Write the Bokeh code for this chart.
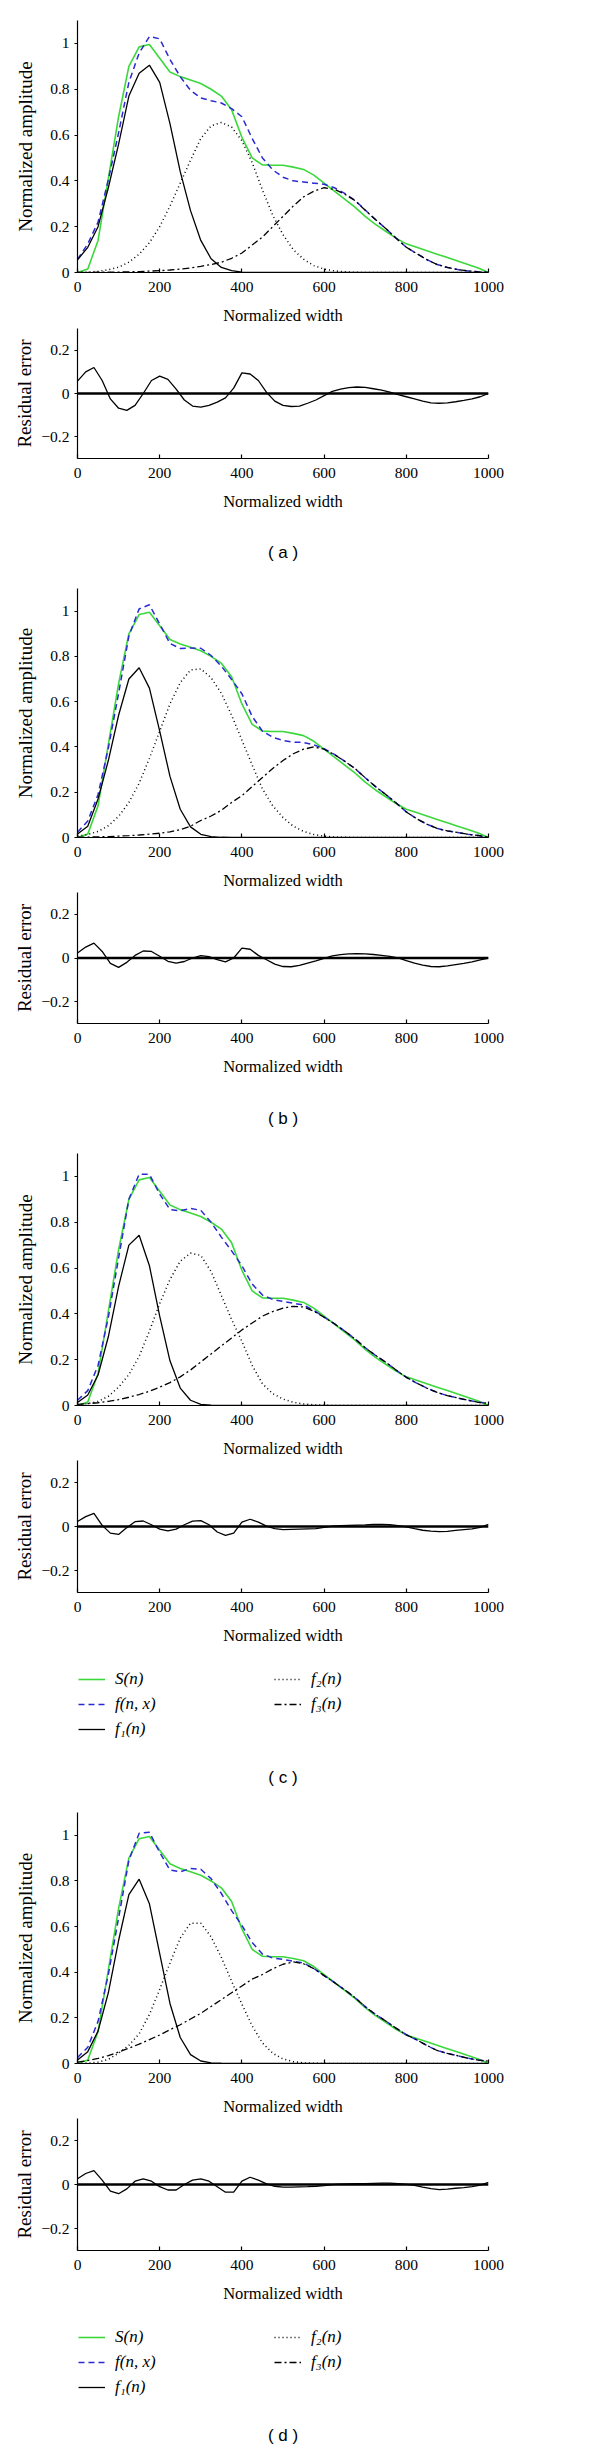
from bokeh.plotting import figure
from bokeh.layouts import column
from bokeh.models import (FixedTicker, Span, Legend, LegendItem, Range1d,
                          CustomJSTickFormatter, Label)
from bokeh.embed import file_html
from bokeh.resources import INLINE

# ---------------- data ----------------
X = [0, 25, 50, 75, 100, 125, 150, 175, 200, 225, 250, 275, 300, 325, 350,
     375, 400, 425, 450, 475, 500, 525, 550, 575, 600, 625, 650, 675, 700,
     725, 750, 775, 800, 825, 850, 875, 900, 925, 950, 975, 1000]
XR = [0, 20, 40, 60, 80, 100, 120, 140, 160, 180, 200, 220, 240, 260, 280,
      300, 320, 340, 360, 380, 400, 420, 440, 460, 480, 500, 520, 540, 560,
      580, 600, 620, 640, 660, 680, 700, 720, 740, 760, 780, 800, 820, 840,
      860, 880, 900, 920, 940, 960, 980, 1000]

X_TICKS = [0, 200, 400, 600, 800, 1000]
AMP_TICKS = [0, 0.2, 0.4, 0.6, 0.8, 1.0]
RES_TICKS = [-0.2, 0, 0.2]

S_N = [0.0, 0.015, 0.14, 0.41, 0.68, 0.90, 0.985, 0.995, 0.935, 0.875, 0.855,
       0.84, 0.825, 0.80, 0.77, 0.71, 0.59, 0.50, 0.47, 0.468, 0.468, 0.46,
       0.45, 0.425, 0.39, 0.355, 0.32, 0.285, 0.245, 0.21, 0.18, 0.15, 0.125,
       0.11, 0.095, 0.08, 0.065, 0.05, 0.035, 0.02, 0.0]

# panel (a)
FIT_A = [0.057, 0.125, 0.22, 0.405, 0.61, 0.83, 0.958, 1.03, 1.02, 0.93, 0.855,
         0.795, 0.762, 0.75, 0.74, 0.715, 0.68, 0.585, 0.50, 0.448, 0.416, 0.40,
         0.395, 0.39, 0.385, 0.37, 0.345, 0.315, 0.273, 0.231, 0.192, 0.15,
         0.11, 0.083, 0.056, 0.035, 0.022, 0.013, 0.007, 0.003, 0.0]
F1_A = [0.055, 0.11, 0.2, 0.37, 0.56, 0.77, 0.87, 0.905, 0.83, 0.65, 0.44,
        0.27, 0.14, 0.06, 0.022, 0.008, 0.002, 0.0, 0.0, 0.0, 0.0, 0.0, 0.0,
        0.0, 0.0, 0.0, 0.0, 0.0, 0.0, 0.0, 0.0, 0.0, 0.0, 0.0, 0.0, 0.0, 0.0,
        0.0, 0.0, 0.0, 0.0]
F2_A = [0.001, 0.002, 0.005, 0.012, 0.023, 0.045, 0.08, 0.13, 0.2, 0.29, 0.39,
        0.49, 0.585, 0.64, 0.655, 0.635, 0.575, 0.48, 0.36, 0.25, 0.165, 0.10,
        0.058, 0.03, 0.015, 0.007, 0.003, 0.001, 0.0, 0.0, 0.0, 0.0, 0.0, 0.0,
        0.0, 0.0, 0.0, 0.0, 0.0, 0.0, 0.0]
F3_A = [0.0, 0.0, 0.001, 0.001, 0.002, 0.003, 0.004, 0.006, 0.008, 0.011, 0.015,
        0.02, 0.027, 0.035, 0.045, 0.062, 0.085, 0.12, 0.155, 0.2, 0.245, 0.29,
        0.33, 0.355, 0.37, 0.363, 0.342, 0.314, 0.272, 0.231, 0.192, 0.15,
        0.11, 0.083, 0.056, 0.035, 0.022, 0.013, 0.007, 0.003, 0.0]
RES_A = [0.057, 0.10, 0.12, 0.06, -0.025, -0.068, -0.078, -0.055, 0.0, 0.06,
         0.08, 0.065, 0.02, -0.03, -0.058, -0.063, -0.055, -0.04, -0.02, 0.025,
         0.095, 0.09, 0.06, 0.005, -0.035, -0.055, -0.06, -0.058, -0.045, -0.03,
         -0.01, 0.01, 0.02, 0.027, 0.03, 0.028, 0.022, 0.016, 0.006, -0.005,
         -0.015, -0.025, -0.035, -0.043, -0.045, -0.043, -0.038, -0.032,
         -0.025, -0.015, 0.0]

# panel (b)
FIT_B = [0.023, 0.073, 0.19, 0.395, 0.637, 0.89, 1.01, 1.028, 0.943, 0.857,
         0.835, 0.837, 0.836, 0.804, 0.757, 0.698, 0.635, 0.535, 0.47, 0.443,
         0.429, 0.421, 0.42, 0.409, 0.392, 0.367, 0.337, 0.305, 0.264, 0.225,
         0.19, 0.153, 0.113, 0.083, 0.059, 0.04, 0.029, 0.022, 0.014, 0.009, 0.0]
F1_B = [0.015, 0.05, 0.17, 0.34, 0.54, 0.70, 0.75, 0.66, 0.47, 0.27, 0.125,
        0.047, 0.014, 0.004, 0.001, 0.0, 0.0, 0.0, 0.0, 0.0, 0.0, 0.0, 0.0,
        0.0, 0.0, 0.0, 0.0, 0.0, 0.0, 0.0, 0.0, 0.0, 0.0, 0.0, 0.0, 0.0, 0.0,
        0.0, 0.0, 0.0, 0.0]
F2_B = [0.006, 0.013, 0.027, 0.052, 0.093, 0.155, 0.24, 0.35, 0.47, 0.59, 0.684,
        0.74, 0.745, 0.706, 0.637, 0.54, 0.43, 0.32, 0.215, 0.14, 0.088, 0.05,
        0.027, 0.013, 0.006, 0.002, 0.001, 0.0, 0.0, 0.0, 0.0, 0.0, 0.0, 0.0,
        0.0, 0.0, 0.0, 0.0, 0.0, 0.0, 0.0]
F3_B = [0.001, 0.002, 0.003, 0.004, 0.006, 0.008, 0.011, 0.015, 0.019, 0.025,
        0.035, 0.05, 0.075, 0.095, 0.12, 0.155, 0.185, 0.225, 0.265, 0.305,
        0.34, 0.37, 0.39, 0.40, 0.39, 0.366, 0.337, 0.305, 0.264, 0.225, 0.19,
        0.153, 0.113, 0.083, 0.059, 0.04, 0.029, 0.022, 0.014, 0.009, 0.0]
RES_B = [0.023, 0.05, 0.068, 0.03, -0.025, -0.043, -0.02, 0.012, 0.032, 0.03,
         0.008, -0.015, -0.023, -0.016, 0.0, 0.011, 0.006, -0.008, -0.018, 0.0,
         0.045, 0.04, 0.012, -0.008, -0.028, -0.039, -0.04, -0.034, -0.023,
         -0.013, -0.002, 0.01, 0.015, 0.019, 0.02, 0.019, 0.016, 0.012, 0.007,
         0.001, -0.012, -0.024, -0.033, -0.039, -0.04, -0.036, -0.03, -0.025,
         -0.018, -0.009, 0.0]

# panel (c)
FIT_C = [0.023, 0.065, 0.175, 0.385, 0.644, 0.90, 1.01, 1.009, 0.923, 0.855,
         0.85, 0.86, 0.852, 0.80, 0.735, 0.675, 0.61, 0.53, 0.482, 0.463, 0.454,
         0.447, 0.438, 0.415, 0.386, 0.357, 0.325, 0.291, 0.252, 0.219, 0.189,
         0.155, 0.123, 0.098, 0.076, 0.057, 0.043, 0.033, 0.023, 0.014, 0.01]
F1_C = [0.013, 0.046, 0.133, 0.30, 0.52, 0.70, 0.743, 0.61, 0.39, 0.195, 0.076,
        0.023, 0.005, 0.001, 0.0, 0.0, 0.0, 0.0, 0.0, 0.0, 0.0, 0.0, 0.0, 0.0,
        0.0, 0.0, 0.0, 0.0, 0.0, 0.0, 0.0, 0.0, 0.0, 0.0, 0.0, 0.0, 0.0, 0.0,
        0.0, 0.0, 0.0]
F2_C = [0.003, 0.008, 0.018, 0.04, 0.08, 0.135, 0.215, 0.325, 0.445, 0.55, 0.63,
        0.665, 0.655, 0.585, 0.48, 0.375, 0.28, 0.175, 0.095, 0.052, 0.028,
        0.014, 0.007, 0.003, 0.001, 0.0, 0.0, 0.0, 0.0, 0.0, 0.0, 0.0, 0.0,
        0.0, 0.0, 0.0, 0.0, 0.0, 0.0, 0.0, 0.0]
F3_C = [0.005, 0.008, 0.012, 0.018, 0.026, 0.036, 0.048, 0.062, 0.08, 0.1, 0.125,
        0.155, 0.19, 0.225, 0.26, 0.295, 0.33, 0.36, 0.39, 0.41, 0.425, 0.433,
        0.43, 0.412, 0.385, 0.357, 0.325, 0.291, 0.252, 0.219, 0.189, 0.155,
        0.123, 0.098, 0.076, 0.057, 0.043, 0.033, 0.023, 0.014, 0.01]
RES_C = [0.023, 0.045, 0.06, 0.005, -0.03, -0.036, -0.005, 0.022, 0.025, 0.008,
         -0.012, -0.02, -0.012, 0.008, 0.024, 0.027, 0.008, -0.025, -0.04,
         -0.03, 0.02, 0.033, 0.02, 0.002, -0.01, -0.014, -0.013, -0.012, -0.011,
         -0.01, -0.004, 0.002, 0.004, 0.005, 0.006, 0.007, 0.009, 0.01, 0.008,
         0.004, -0.002, -0.01, -0.017, -0.021, -0.023, -0.022, -0.018, -0.014,
         -0.011, -0.004, 0.01]

# panel (d)
FIT_D = [0.026, 0.071, 0.185, 0.39, 0.638, 0.89, 1.009, 1.013, 0.925, 0.848,
         0.84, 0.855, 0.851, 0.81, 0.745, 0.67, 0.605, 0.53, 0.48, 0.462, 0.456,
         0.448, 0.44, 0.417, 0.385, 0.355, 0.323, 0.289, 0.249, 0.215, 0.186,
         0.155, 0.126, 0.104, 0.079, 0.057, 0.044, 0.034, 0.023, 0.015, 0.01]
F1_D = [0.015, 0.052, 0.142, 0.31, 0.539, 0.74, 0.808, 0.70, 0.482, 0.263,
        0.114, 0.039, 0.011, 0.003, 0.001, 0.0, 0.0, 0.0, 0.0, 0.0, 0.0, 0.0,
        0.0, 0.0, 0.0, 0.0, 0.0, 0.0, 0.0, 0.0, 0.0, 0.0, 0.0, 0.0, 0.0, 0.0,
        0.0, 0.0, 0.0, 0.0, 0.0]
F2_D = [0.001, 0.002, 0.006, 0.018, 0.045, 0.08, 0.13, 0.215, 0.325, 0.44, 0.55,
        0.615, 0.615, 0.555, 0.465, 0.36, 0.26, 0.165, 0.09, 0.045, 0.02, 0.008,
        0.003, 0.001, 0.0, 0.0, 0.0, 0.0, 0.0, 0.0, 0.0, 0.0, 0.0, 0.0, 0.0,
        0.0, 0.0, 0.0, 0.0, 0.0, 0.0]
F3_D = [0.006, 0.013, 0.022, 0.035, 0.05, 0.067, 0.085, 0.105, 0.125, 0.148,
        0.17, 0.195, 0.22, 0.25, 0.28, 0.31, 0.34, 0.37, 0.39, 0.415, 0.435,
        0.445, 0.437, 0.416, 0.385, 0.355, 0.323, 0.289, 0.249, 0.215, 0.186,
        0.155, 0.126, 0.104, 0.079, 0.057, 0.044, 0.034, 0.023, 0.015, 0.01]
RES_D = [0.026, 0.05, 0.063, 0.02, -0.03, -0.042, -0.02, 0.015, 0.026, 0.015,
         -0.01, -0.025, -0.025, 0.0, 0.02, 0.026, 0.015, -0.01, -0.035, -0.035,
         0.015, 0.033, 0.02, 0.003, -0.008, -0.012, -0.012, -0.011, -0.01,
         -0.008, -0.005, -0.001, 0.002, 0.003, 0.004, 0.004, 0.005, 0.006,
         0.006, 0.004, 0.001, -0.004, -0.012, -0.019, -0.023, -0.021, -0.017,
         -0.014, -0.01, -0.003, 0.01]

PANEL_NAMES = ["( a )", "( b )", "( c )", "( d )"]
LEGEND_LABELS = ["S(n)", "f(n, x)", "f\u2081(n)", "f\u2082(n)", "f\u2083(n)"]

# ---------------- styling ----------------
SERIF = "Liberation Serif"
SANS = "Liberation Sans"
GREEN = "#3bd83b"
BLUE = "#2a2ad2"
LEFT, RIGHT = 77, 40
FRAME_W = 411
FIG_W = LEFT + FRAME_W + RIGHT

FMT = CustomJSTickFormatter(code="""
    let s = tick.toFixed(1);
    if (s.endsWith('.0')) { s = s.slice(0, -2); }
    if (s === '-0') { s = '0'; }
    return s.replace('-', '\u2212');
""")


def base_fig(height, top, bottom, y0, y1, **kw):
    p = figure(width=FIG_W, height=height,
               x_range=Range1d(0, 1000), y_range=Range1d(y0, y1),
               output_backend="svg", toolbar_location=None,
               min_border_left=LEFT, min_border_right=RIGHT,
               min_border_top=top, min_border_bottom=bottom, **kw)
    p.outline_line_color = None
    p.background_fill_color = "white"
    p.border_fill_color = "white"
    return p


def style_axes(p, ylabel, yticks, ylabel_standoff):
    p.grid.visible = False
    xa = p.xaxis[0]
    xa.ticker = FixedTicker(ticks=X_TICKS)
    xa.axis_label = "Normalized width"
    xa.axis_label_text_font = SERIF
    xa.axis_label_text_font_size = "16.5px"
    xa.axis_label_text_font_style = "normal"
    xa.axis_label_text_color = "black"
    xa.axis_label_standoff = 11
    xa.major_label_text_font = SERIF
    xa.major_label_text_font_size = "15.5px"
    xa.major_label_text_color = "black"
    xa.major_label_standoff = 9
    xa.major_tick_in = 4
    xa.major_tick_out = 0
    xa.minor_tick_line_color = None
    xa.axis_line_width = 1.2
    xa.major_tick_line_width = 1.2
    ya = p.yaxis[0]
    ya.ticker = FixedTicker(ticks=yticks)
    ya.formatter = FMT
    ya.axis_label = ylabel
    ya.axis_label_text_font = SERIF
    ya.axis_label_text_font_size = "19px"
    ya.axis_label_text_font_style = "normal"
    ya.axis_label_text_color = "black"
    ya.axis_label_standoff = ylabel_standoff
    ya.major_label_text_font = SERIF
    ya.major_label_text_font_size = "15.5px"
    ya.major_label_text_color = "black"
    ya.major_label_standoff = 5
    ya.major_tick_in = 0
    ya.major_tick_out = 3
    ya.minor_tick_line_color = None
    ya.axis_line_width = 1.2
    ya.major_tick_line_width = 1.2


def draw_curves(p, fit, f1, f2, f3):
    r_s = p.line(X, S_N, line_color=GREEN, line_width=1.6)
    r_fit = p.line(X, fit, line_color=BLUE, line_width=1.5, line_dash="6 4")
    r_f1 = p.line(X, f1, line_color="black", line_width=1.3)
    r_f2 = p.line(X, f2, line_color="black", line_width=1.5, line_dash="1 3")
    r_f3 = p.line(X, f3, line_color="black", line_width=1.3,
                  line_dash="7 3 2 3")
    return [r_s, r_fit, r_f1, r_f2, r_f3]


def main_fig(top, frame_h, bottom, fit, f1, f2, f3):
    p = base_fig(top + frame_h + bottom, top, bottom, 0, 1.1)
    style_axes(p, "Normalized amplitude", AMP_TICKS, 11)
    draw_curves(p, fit, f1, f2, f3)
    return p


def res_fig(frame_h, bottom, res):
    p = base_fig(frame_h + bottom, 0, bottom, -0.3, 0.3)
    style_axes(p, "Residual error", RES_TICKS, 3)
    p.add_layout(Span(location=0, dimension="width", line_color="black",
                      line_width=2.6))
    p.line(XR, res, line_color="black", line_width=1.3)
    return p


def label_fig(height, offset, text):
    p = base_fig(height, 0, 0, 0, height, x_axis_type=None, y_axis_type=None)
    p.grid.visible = False
    p.add_layout(Label(x=500, y=height - offset, text=text,
                       text_align="center", text_baseline="middle",
                       text_font=SANS, text_font_size="17px",
                       text_color="black"))
    return p


def legend_fig(height, fit, f1, f2, f3):
    # the curves sit below this strip's visible y-range; only the key shows
    p = base_fig(height, 0, 0, 2, 3, x_axis_type=None, y_axis_type=None)
    p.grid.visible = False
    rs = draw_curves(p, fit, f1, f2, f3)
    common = dict(label_text_font=SERIF, label_text_font_style="italic",
                  label_text_font_size="17px", label_text_color="black",
                  glyph_width=27, glyph_height=22, label_height=22,
                  label_standoff=10, spacing=3, padding=0, margin=0,
                  border_line_color=None, background_fill_alpha=0)
    leg1 = Legend(items=[LegendItem(label=LEGEND_LABELS[i], renderers=[rs[i]])
                         for i in range(3)],
                  location=(1, height - 12 - 72), **common)
    leg2 = Legend(items=[LegendItem(label=LEGEND_LABELS[i], renderers=[rs[i]])
                         for i in range(3, 5)],
                  location=(197, height - 12 - 47), **common)
    p.add_layout(leg1)
    p.add_layout(leg2)
    return p


figs = [
    main_fig(20, 252, 56, FIT_A, F1_A, F2_A, F3_A),
    res_fig(130, 64, RES_A),
    label_fig(54, 30, PANEL_NAMES[0]),
    main_fig(12, 249, 55, FIT_B, F1_B, F2_B, F3_B),
    res_fig(131, 64, RES_B),
    label_fig(54, 31, PANEL_NAMES[1]),
    main_fig(12, 253, 54, FIT_C, F1_C, F2_C, F3_C),
    res_fig(132, 64, RES_C),
    legend_fig(89, FIT_C, F1_C, F2_C, F3_C),
    label_fig(55, 32, PANEL_NAMES[2]),
    main_fig(12, 252, 54, FIT_D, F1_D, F2_D, F3_D),
    res_fig(132, 64, RES_D),
    legend_fig(89, FIT_D, F1_D, F2_D, F3_D),
    label_fig(47, 32, PANEL_NAMES[3]),
]

layout = column(*figs, spacing=0)
open("out.html", "w").write(file_html(layout, INLINE))
